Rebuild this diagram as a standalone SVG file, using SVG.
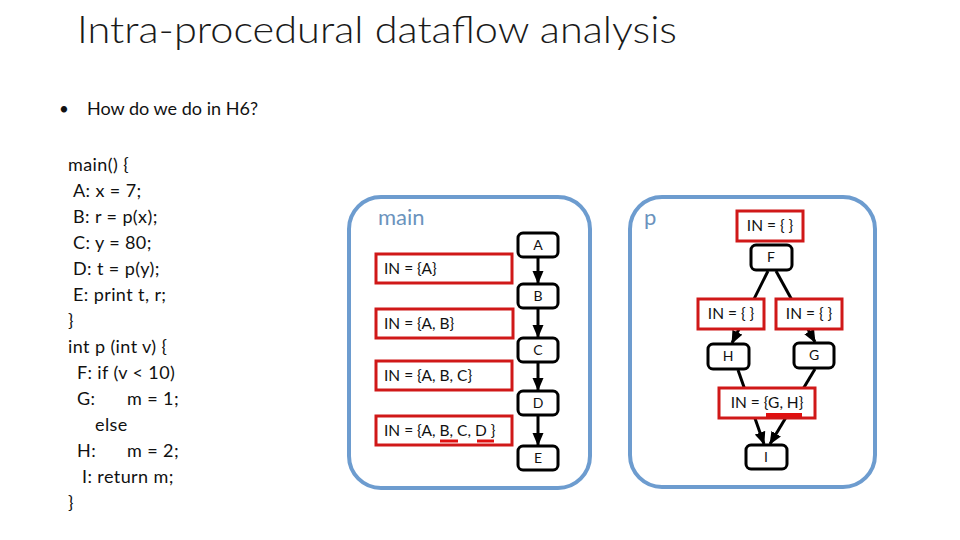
<svg xmlns="http://www.w3.org/2000/svg" width="960" height="540" viewBox="0 0 960 540">
<defs>
<style>
text{font-family:Lato,"Open Sans","Liberation Sans",sans-serif;fill:#111}
.title{font-size:38px;fill:#1a1a1a;font-weight:300}
.bul{font-size:17px}
.code{font-size:18px;letter-spacing:0.4px}
.panel{fill:none;stroke:#6d9ccf;stroke-width:4}
.plab{font-size:22px;fill:#6b93bd}
.node{fill:#fff;stroke:#000;stroke-width:3}
.nl{font-size:14px;text-anchor:middle}
.inbox{fill:#fff;stroke:#d01818;stroke-width:3}
.it{font-size:15.5px}
.edge{stroke:#000;stroke-width:3;fill:none;marker-end:url(#ah)}
.ul{stroke:#e01010;stroke-width:3}
</style>
<marker id="ah" markerUnits="userSpaceOnUse" markerWidth="13" markerHeight="12" viewBox="0 0 13 12" refX="12" refY="6" orient="auto">
<path d="M0,0.5 L13,6 L0,11.5 Z" fill="#000"/>
</marker>
</defs>
<rect width="960" height="540" fill="#fff"/>
<text class="title" x="77" y="43" textLength="600" lengthAdjust="spacingAndGlyphs">Intra-procedural dataflow analysis</text>
<text class="bul" x="59" y="115" font-size="14">•</text>
<text class="bul" x="87" y="115" textLength="171" lengthAdjust="spacingAndGlyphs">How do we do in H6?</text>
<g id="code" class="code">
<text x="68" y="171">main() {</text>
<text x="73" y="197">A: x = 7;</text>
<text x="73" y="223">B: r = p(x);</text>
<text x="73" y="249">C: y = 80;</text>
<text x="73" y="275">D: t = p(y);</text>
<text x="73" y="301">E: print t, r;</text>
<text x="68" y="327">}</text>
<text x="68" y="353">int p (int v) {</text>
<text x="77" y="379">F: if (v &lt; 10)</text>
<text x="77" y="405">G:</text><text x="127" y="405">m = 1;</text>
<text x="95" y="431">else</text>
<text x="77" y="457">H:</text><text x="127" y="457">m = 2;</text>
<text x="82" y="483">I: return m;</text>
<text x="68" y="509">}</text>
</g>
<g id="panel-main">
<rect class="panel" x="349" y="197" width="241" height="291" rx="32"/>
<text class="plab" x="378" y="225">main</text>
</g>
<g id="panel-p">
<rect class="panel" x="630" y="197" width="245" height="290" rx="32"/>
<text class="plab" x="644" y="225">p</text>
</g>
<g id="connectors">
<line class="edge" x1="538" y1="258" x2="538" y2="283"/>
<line class="edge" x1="538" y1="309" x2="538" y2="337"/>
<line class="edge" x1="538" y1="363" x2="538" y2="390"/>
<line class="edge" x1="538" y1="416" x2="538" y2="445"/>
<line class="edge" x1="768" y1="271" x2="732" y2="343"/>
<line class="edge" x1="776" y1="271" x2="815" y2="342"/>
<line class="edge" x1="738" y1="370" x2="764" y2="444"/>
<line class="edge" x1="815" y1="369" x2="770" y2="444"/>
</g>
<g id="node-A"><rect class="node" x="518" y="233" width="40" height="24" rx="5"/><text class="nl" x="538" y="250">A</text></g>
<g id="node-B"><rect class="node" x="518" y="284" width="40" height="24" rx="5"/><text class="nl" x="538" y="301">B</text></g>
<g id="node-C"><rect class="node" x="518" y="338" width="40" height="24" rx="5"/><text class="nl" x="538" y="355">C</text></g>
<g id="node-D"><rect class="node" x="518" y="391" width="40" height="24" rx="5"/><text class="nl" x="538" y="408">D</text></g>
<g id="node-E"><rect class="node" x="518" y="446" width="40" height="24" rx="5"/><text class="nl" x="538" y="463">E</text></g>
<g id="in-A"><rect class="inbox" x="376" y="254" width="136" height="29"/><text class="it" x="384" y="274">IN = {A}</text></g>
<g id="in-AB"><rect class="inbox" x="376" y="309" width="137" height="29"/><text class="it" x="384" y="329">IN = {A, B}</text></g>
<g id="in-ABC"><rect class="inbox" x="376" y="361" width="136" height="29"/><text class="it" x="384" y="381">IN = {A, B, C}</text></g>
<g id="in-ABCD"><rect class="inbox" x="376" y="416" width="136" height="29"/><text class="it" x="384" y="436">IN = {A, B, C, D }</text>
<line class="ul" x1="440" y1="441" x2="458" y2="441"/><line class="ul" x1="477" y1="441" x2="494" y2="441"/></g>
<g id="in-F"><rect class="inbox" x="737" y="211" width="66" height="30"/><text class="it" x="770" y="231" text-anchor="middle">IN = { }</text></g>
<g id="node-F"><rect class="node" x="751" y="245" width="41" height="25" rx="5"/><text class="nl" x="771" y="262">F</text></g>
<g id="in-H"><rect class="inbox" x="698" y="299" width="66" height="30"/><text class="it" x="731" y="319" text-anchor="middle">IN = { }</text></g>
<g id="in-G"><rect class="inbox" x="776" y="299" width="66" height="30"/><text class="it" x="809" y="319" text-anchor="middle">IN = { }</text></g>
<g id="node-H"><rect class="node" x="708" y="344" width="41" height="25" rx="5"/><text class="nl" x="728" y="361">H</text></g>
<g id="node-G"><rect class="node" x="794" y="343" width="40" height="25" rx="5"/><text class="nl" x="814" y="360">G</text></g>
<g id="in-I"><rect class="inbox" x="719" y="388" width="96" height="30"/><text class="it" x="767" y="408" text-anchor="middle">IN = {G, H}</text>
<line x1="766" y1="415" x2="802" y2="415" stroke="#e01010" stroke-width="4"/></g>
<g id="node-I"><rect class="node" x="746" y="445" width="41" height="24" rx="5"/><text class="nl" x="766" y="462">I</text></g>
</svg>
